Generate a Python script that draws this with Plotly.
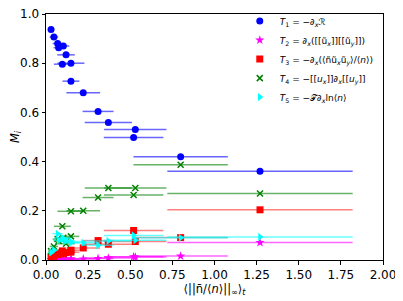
import plotly.graph_objects as go

x_vals = [0.030, 0.047, 0.069, 0.075, 0.103, 0.119, 0.097, 0.148, 0.148, 0.221, 0.309, 0.370, 0.530, 0.520, 0.799, 1.270]
x_errs = [0.018, 0.025, 0.030, 0.030, 0.035, 0.052, 0.050, 0.080, 0.050, 0.100, 0.092, 0.140, 0.185, 0.177, 0.280, 0.550]

T1 = [0.937, 0.906, 0.880, 0.863, 0.870, 0.834, 0.796, 0.800, 0.727, 0.680, 0.604, 0.559, 0.530, 0.498, 0.420, 0.361]
T2 = [0.002, 0.002, 0.003, 0.003, 0.003, 0.004, 0.003, 0.004, 0.004, 0.004, 0.006, 0.008, 0.012, 0.013, 0.016, 0.071]
T3 = [0.012, 0.015, 0.022, 0.028, 0.025, 0.030, 0.037, 0.040, 0.032, 0.049, 0.079, 0.064, 0.075, 0.120, 0.091, 0.204]
T4 = [0.036, 0.055, 0.085, 0.078, 0.090, 0.066, 0.137, 0.198, 0.096, 0.200, 0.254, 0.293, 0.293, 0.264, 0.387, 0.270]
T5 = [0.030, 0.040, 0.107, 0.080, 0.087, 0.078, 0.090, 0.075, 0.070, 0.070, 0.060, 0.077, 0.080, 0.100, 0.090, 0.094]

names = [
    "<i>T</i><sub>1</sub> = −∂<sub><i>x</i></sub>ℛ",
    "<i>T</i><sub>2</sub> = ∂<sub><i>x</i></sub>([[ũ<sub><i>x</i></sub>]][[ũ<sub><i>y</i></sub>]])",
    "<i>T</i><sub>3</sub> = −∂<sub><i>x</i></sub>(⟨ñũ<sub><i>x</i></sub>ũ<sub><i>y</i></sub>⟩/⟨<i>n</i>⟩)",
    "<i>T</i><sub>4</sub> = −[[<i>u</i><sub><i>x</i></sub>]]∂<sub><i>x</i></sub>[[<i>u</i><sub><i>y</i></sub>]]",
    "<i>T</i><sub>5</sub> = −𝒯∂<sub><i>x</i></sub>ln⟨<i>n</i>⟩",
]

series = [T1, T2, T3, T4, T5]
colors = ["#0000ff", "#ff00ff", "#ff0000", "#008000", "#00ffff"]
err_colors = ["rgba(0,0,255,0.6)", "rgba(255,0,255,0.6)", "rgba(255,0,0,0.5)", "rgba(0,128,0,0.6)", "rgba(0,255,255,0.6)"]
symbols = ["circle", "star", "square", "x-thin", "triangle-right"]
sizes = [7, 7, 7, 6, 7]

fig = go.Figure()
for y, nm, c, ec, s, sz in zip(series, names, colors, err_colors, symbols, sizes):
    mk = dict(color=c, symbol=s, size=sz)
    if s == "x-thin":
        mk["line"] = dict(color=c, width=1.5)
    else:
        mk["line"] = dict(width=0)
    fig.add_trace(go.Scatter(
        x=x_vals, y=y, mode="markers", name=nm, marker=mk,
        error_x=dict(type="data", array=x_errs, visible=True, color=ec, thickness=1.5, width=0),
    ))

fig.update_layout(
    width=395, height=293,
    margin=dict(l=38, r=20, t=6, b=41, autoexpand=False),
    paper_bgcolor="white", plot_bgcolor="white",
    font=dict(family="DejaVu Sans", size=12, color="black"),
    showlegend=True,
    legend=dict(x=0.575, y=1.03, xanchor="left", yanchor="top", bgcolor="rgba(0,0,0,0)",
                font=dict(size=9), tracegroupgap=0, itemsizing="trace"),
)
fig.update_xaxes(range=[0, 2.0], tickvals=[0, 0.25, 0.5, 0.75, 1.0, 1.25, 1.5, 1.75, 2.0],
                 ticktext=["0.00", "0.25", "0.50", "0.75", "1.00", "1.25", "1.50", "1.75", "2.00"],
                 tickfont=dict(size=12), automargin=False, ticklabeloverflow="allow",
                 showline=True, linecolor="black", linewidth=1, mirror=True, ticks="outside",
                 ticklen=3.5, tickcolor="black", showgrid=False, zeroline=False,
                 title=dict(text="⟨||n̄/⟨<i>n</i>⟩||<sub>∞</sub>⟩<sub><i>t</i></sub>", standoff=1, font=dict(size=11.5)))
fig.update_yaxes(range=[0, 1.0], tickvals=[0, 0.2, 0.4, 0.6, 0.8, 1.0],
                 ticktext=["0.0", "0.2", "0.4", "0.6", "0.8", "1.0"],
                 tickfont=dict(size=12), automargin=False, ticklabeloverflow="allow",
                 showline=True, linecolor="black", linewidth=1, mirror=True, ticks="outside",
                 ticklen=3.5, tickcolor="black", showgrid=False, zeroline=False,
                 title=dict(text="<i>M<sub>i</sub></i>", standoff=2, font=dict(size=11.5)))

fig.write_html("out.html")
